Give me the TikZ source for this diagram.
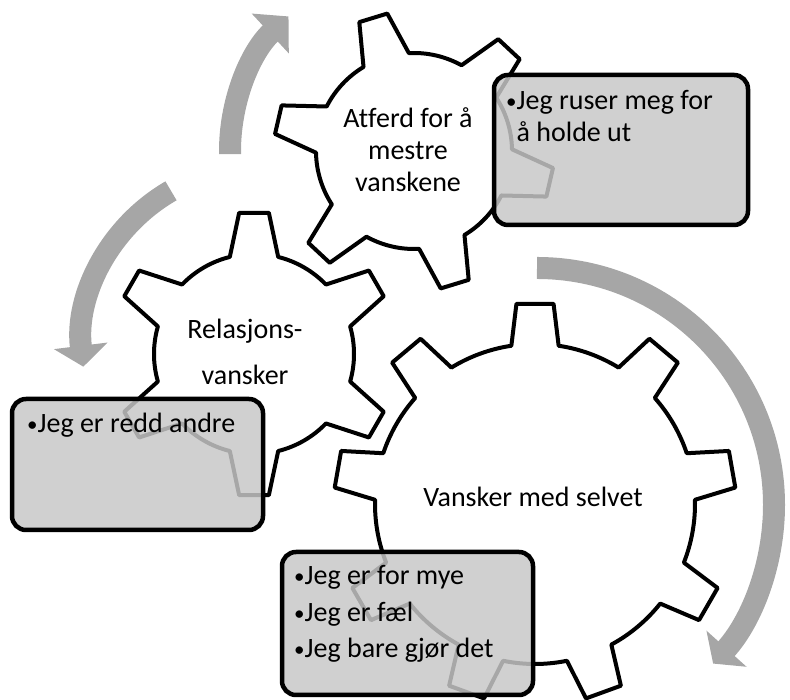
\documentclass[tikz,border=0pt]{standalone}
\usepackage{fontspec}
\setmainfont[Ligatures={NoCommon}]{Carlito}
\usetikzlibrary{arrows.meta}
\definecolor{arrowgray}{gray}{0.65}
\definecolor{boxgray}{gray}{0.78}
% #1 centre, #2 teeth, #3 first tooth, #4 root radius, #5 tip radius, #6 half base, #7 half tip
\newcommand{\cog}[7]{%
  \pgfmathsetmacro{\cogstep}{360/#2}
  \pgfmathtruncatemacro{\coglast}{#2-1}
  \begin{scope}[shift={(#1)}]
  \draw[cogline] ({#3-#6}:#4) foreach \i in {0,...,\coglast} {
    -- ({#3+\i*\cogstep-#7}:#5) -- ({#3+\i*\cogstep+#7}:#5) -- ({#3+\i*\cogstep+#6}:#4)
    arc[start angle={#3+\i*\cogstep+#6}, end angle={#3+(\i+1)*\cogstep-#6}, radius=#4]} -- cycle;
  \end{scope}}
\newcommand{\notedot}{\raisebox{1.5pt}{\fontsize{21}{21}\selectfont•}}

\begin{document}
\begin{tikzpicture}[x=1pt,y=1pt,
  cogline/.style={draw=black,line width=4pt,fill=white,line join=round},
  turn/.style={draw=arrowgray,line width=22pt,-{Triangle[length=#1,width=53pt]}},
  turn/.default=24pt,
  notebox/.style={draw=black,line width=4.5pt,fill=boxgray,fill opacity=0.84,rounded corners=14pt,inner sep=0pt},
  cogtext/.style={font=\fontsize{28}{32}\selectfont,align=center,inner sep=0pt},
  notetext/.style={font=\fontsize{28}{32}\selectfont,inner sep=0pt,anchor=base west}]
\useasboundingbox (0,0) rectangle (790,700);
\coordinate (cTop) at (414,549);
\coordinate (cMid) at (254,346);
\coordinate (cBig) at (535,196);
%\draw (0,0) rectangle (790,700);
\cog{cTop}{6}{107}{98}{140}{14}{6}
\cog{cMid}{6}{90}{100}{142}{14}{6}
\cog{cBig}{9}{90}{160}{201}{8.5}{5.3}
\draw[turn=25pt] ([shift={(181:184)}]cTop) arc[start angle=181,end angle=133,radius=184];
\draw[turn=21pt] ([shift={(120:178)}]260,355) arc[start angle=120,end angle=187,radius=178];
\draw[turn=20pt] ([shift={(90:237)}]537,195) arc[start angle=90,end angle=-42,radius=237];
\node[cogtext] (atferd) at (408,550) {Atferd for å\\mestre\\vanskene};
\node[cogtext] (relasjon) at (245,348) {Relasjons-\\[14pt]vansker};
\node[cogtext,anchor=base] (selvet) at (533,193) {Vansker med selvet};
\node[notebox,minimum width=254pt,minimum height=150pt] (boxA) at (621,550) {};
\node[notebox,minimum width=251pt,minimum height=131pt] (boxB) at (137.5,235.5) {};
\node[notebox,minimum width=251pt,minimum height=143pt] (boxC) at (407.5,76.5) {};
\node[notetext] (ruser) at (506,590) {\notedot Jeg ruser meg for};
\node[notetext] (holde) at (506,558) {\phantom{\notedot}å holde ut};
\node[notetext] (redd) at (27,267) {\notedot Jeg er redd andre};
\node[notetext] (mye) at (294,115) {\notedot Jeg er for mye};
\node[notetext] (fael) at (294,78) {\notedot Jeg er fæl};
\node[notetext] (gjor) at (294,42) {\notedot Jeg bare gjør det};
\end{tikzpicture}
\end{document}
